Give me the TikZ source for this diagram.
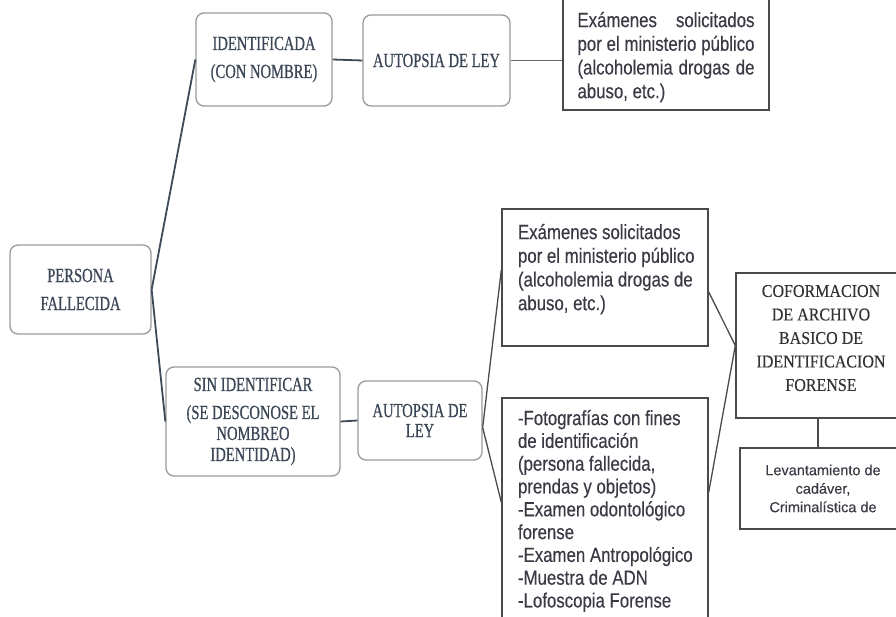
\documentclass[tikz,border=0pt]{standalone}
\usepackage{fontspec}
\setmainfont{Liberation Serif}
\newfontfamily\rsf[FakeStretch=0.73,FakeBold=0.6]{Liberation Serif}
\newfontfamily\csf[FakeStretch=0.89,FakeBold=0.3]{Liberation Serif}
\newfontfamily\nsf[FakeStretch=0.82,FakeBold=0.3]{Liberation Sans}
\newfontfamily\lsf[FakeBold=0.2]{Liberation Sans}
\definecolor{rborder}{HTML}{9A9A9A}
\definecolor{rtext}{HTML}{3B4656}
\definecolor{sborder}{HTML}{4A4A4A}
\definecolor{stext}{HTML}{3A3A45}
\definecolor{ctext}{HTML}{3E4A5A}
\newcommand\tbx[4]{\parbox[c][#2][t]{#1}{\vspace*{#3}#4}}
\begin{document}
\begin{tikzpicture}[x=1pt,y=-1pt,
  rbox/.style={draw=rborder, line width=1.3pt, rounded corners=8pt, fill=white,
    text=rtext, font=\rsf\fontsize{20}{21}\selectfont, align=center, inner sep=0pt},
  sbox/.style={draw=sborder, line width=1.4pt, fill=white, inner ysep=0pt,
    text=stext, font=\nsf\fontsize{20.5}{23.7}\selectfont},
  conn/.style={draw=ctext, line width=1.8pt},
  sconn/.style={draw=sborder, line width=1.3pt}]
\useasboundingbox (0,0) rectangle (896,617);
\clip (0,0) rectangle (896,617);
\fill[white] (0,0) rectangle (896,617);

% rounded boxes
\node[rbox, minimum width=141pt, minimum height=89pt] (pf) at (80.5,289.5) {PERSONA\\[7pt]FALLECIDA};
\node[rbox, minimum width=136pt, minimum height=93pt] (idf) at (264,59.5) {IDENTIFICADA\\[7pt](CON NOMBRE)};
\node[rbox, minimum width=147pt, minimum height=91pt] (aut1) at (436.5,60.5) {AUTOPSIA DE LEY};
\node[rbox, minimum width=174pt, minimum height=109pt] (sin) at (253,421.5) {SIN IDENTIFICAR\\[7pt](SE DESCONOSE EL\\NOMBREO\\IDENTIDAD)};
\node[rbox, minimum width=124pt, minimum height=79pt, font=\rsf\fontsize{20}{20}\selectfont] (aut2) at (420,420.5) {AUTOPSIA DE\\LEY};

% rectangle boxes
\node[sbox, inner xsep=14.5pt] (ex1) at (666,53) {\tbx{177pt}{114pt}{16pt}{%
\makebox[177pt][s]{Exámenes solicitados}\\
\makebox[177pt][s]{por el ministerio público}\\
\makebox[177pt][s]{(alcoholemia drogas de}\\
abuso, etc.)}};
\node[sbox, inner xsep=16pt] (ex2) at (605,277.5) {\tbx{174pt}{137pt}{15pt}{\raggedright
\mbox{Exámenes solicitados}\\
\mbox{por el ministerio público}\\
\mbox{(alcoholemia drogas de}\\
\mbox{abuso, etc.)}}};
\node[sbox, inner xsep=16pt, font=\nsf\fontsize{20.5}{22.8}\selectfont] (fot) at (605,519) {\tbx{174pt}{242pt}{12pt}{\raggedright
\mbox{-Fotografías con fines}\\
\mbox{de identificación}\\
\mbox{(persona fallecida,}\\
\mbox{prendas y objetos)}\\
\mbox{-Examen odontológico}\\
\mbox{forense}\\
\mbox{-Examen Antropológico}\\
\mbox{-Muestra de ADN}\\
\mbox{-Lofoscopia Forense}}};
\node[sbox, inner xsep=0pt, text=black!80, font=\csf\fontsize{18}{23.5}\selectfont] (cof) at (821,345.5) {\tbx{170pt}{145pt}{12pt}{\centering
COFORMACION\\DE ARCHIVO\\BASICO DE\\IDENTIFICACION\\FORENSE}};
\node[sbox, inner xsep=0pt, minimum width=166pt, minimum height=81pt, align=center, font=\lsf\fontsize{14.5}{18.5}\selectfont] (lev) at (823,488.5) {Levantamiento de\\cadáver,\\Criminalística de};

% connectors
\draw[conn] (pf.east) -- (idf.west);
\draw[conn] (pf.east) -- (sin.west);
\draw[conn] (idf.east) -- (aut1.west);
\draw[sconn, line width=1.8pt, draw=black!60] (aut1.east) -- (aut1.east -| ex1.west);
\draw[conn] (sin.east) -- (aut2.west);
\draw[sconn] ([yshift=-7pt]aut2.east) -- ([yshift=7.5pt]ex2.west);
\draw[sconn] ([yshift=-7pt]aut2.east) -- ([yshift=-105pt]fot.north west);
\draw[sconn] ([yshift=-14.5pt]ex2.east) -- (cof.west);
\draw[sconn] ([yshift=-95pt]fot.north east) -- (cof.west);
\draw[sconn] ([xshift=-3pt]cof.south) -- ([xshift=-3pt]cof.south |- lev.north);
\end{tikzpicture}
\end{document}
